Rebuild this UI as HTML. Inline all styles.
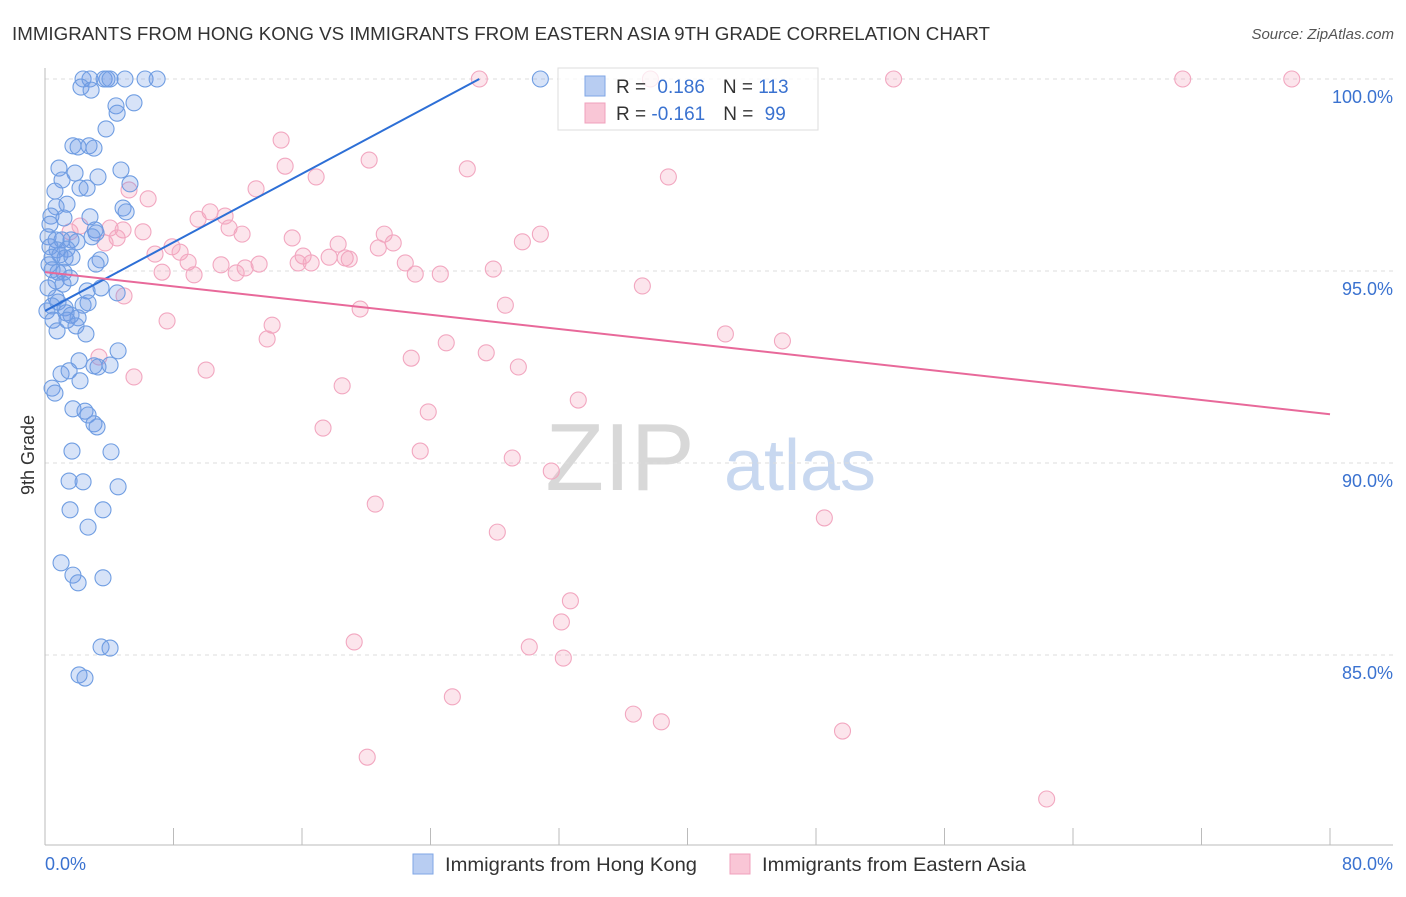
<!DOCTYPE html>
<html><head><meta charset="utf-8"><style>
body{margin:0;background:#fff;font-family:"Liberation Sans",sans-serif;}
svg text{font-family:"Liberation Sans",sans-serif;}
</style></head><body>
<svg id="chart" width="1406" height="892" xmlns="http://www.w3.org/2000/svg">
<text x="12" y="40" font-size="18.5" fill="#333" textLength="978" lengthAdjust="spacingAndGlyphs">IMMIGRANTS FROM HONG KONG VS IMMIGRANTS FROM EASTERN ASIA 9TH GRADE CORRELATION CHART</text>
<text x="1394" y="39" font-size="15" fill="#555" font-style="italic" text-anchor="end">Source: ZipAtlas.com</text>
<text x="620" y="490" font-size="96" fill="#d8d8d8" font-family="Liberation Serif" text-anchor="middle">ZIP</text>
<text x="800" y="490" font-size="72" fill="#c8d8f0" text-anchor="middle">atlas</text>
<text transform="translate(34,455) rotate(-90)" font-size="18" fill="#333" text-anchor="middle">9th Grade</text>
<g id="grid"></g><g id="pts"></g><g id="lines"></g>
<g>
<rect x="558" y="68" width="260" height="62" fill="#fff" fill-opacity="0.75" stroke="#ddd"/>
<rect x="585" y="76" width="20" height="20" fill="#b8cdf2" stroke="#7fa6e6"/>
<rect x="585" y="103" width="20" height="20" fill="#f9c6d6" stroke="#f0a0bc"/>
<text x="616" y="93" font-size="19" fill="#333">R = <tspan fill="#3a72d0" dx="6">0.186</tspan><tspan dx="18" fill="#333">N = </tspan><tspan fill="#3a72d0">113</tspan></text>
<text x="616" y="120" font-size="19" fill="#333">R = <tspan fill="#3a72d0">-0.161</tspan><tspan dx="18" fill="#333">N = </tspan><tspan fill="#3a72d0" dx="6">99</tspan></text>
</g>
<g>
<rect x="413" y="854" width="20" height="20" fill="#b8cdf2" stroke="#7fa6e6"/>
<text x="445" y="871" font-size="19.5" fill="#333" textLength="252" lengthAdjust="spacingAndGlyphs">Immigrants from Hong Kong</text>
<rect x="730" y="854" width="20" height="20" fill="#f9c6d6" stroke="#f0a0bc"/>
<text x="762" y="871" font-size="19.5" fill="#333" textLength="264" lengthAdjust="spacingAndGlyphs">Immigrants from Eastern Asia</text>
</g>
</svg>
<script>
const blueX=[2.37,2.80,3.68,3.86,4.05,4.98,6.23,6.98,30.84,2.24,2.87,4.42,5.54,4.49,3.80,1.74,2.06,2.74,3.05,0.87,4.73,1.87,1.06,3.30,5.29,0.62,2.18,2.62,1.37,4.86,5.05,0.69,0.37,1.18,2.80,0.31,3.12,3.18,0.19,0.69,1.06,1.62,1.99,2.93,0.31,0.75,1.37,0.44,0.93,1.25,1.68,3.43,3.18,0.25,0.44,0.81,1.18,1.56,0.69,1.12,0.19,3.49,2.62,4.49,0.69,0.81,0.44,0.12,1.25,2.37,2.68,1.31,1.62,2.06,1.37,1.93,0.50,0.75,2.55,4.55,2.12,3.05,3.30,4.05,1.00,1.50,2.18,0.44,0.62,1.74,2.49,2.68,3.05,3.24,1.68,4.11,1.50,2.37,4.55,1.56,3.61,2.68,1.00,1.74,3.61,2.06,3.49,4.05,2.12,2.49];
const blueY=[100,100,100,100,100,100,100,100,100,99.79,99.71,99.30,99.38,99.11,98.70,98.26,98.23,98.26,98.20,97.68,97.63,97.55,97.37,97.45,97.27,97.08,97.16,97.16,96.74,96.64,96.54,96.67,96.43,96.38,96.41,96.22,96.07,95.99,95.89,95.81,95.81,95.81,95.76,95.89,95.63,95.55,95.57,95.36,95.42,95.34,95.36,95.29,95.18,95.16,95.03,94.97,94.97,94.82,94.74,94.66,94.56,94.56,94.48,94.43,94.30,94.19,94.09,93.96,94.04,94.11,94.17,93.91,93.85,93.78,93.72,93.57,93.72,93.44,93.36,92.92,92.66,92.53,92.50,92.55,92.32,92.40,92.14,91.95,91.82,91.41,91.35,91.25,91.02,90.94,90.31,90.29,89.53,89.51,89.38,88.78,88.78,88.33,87.40,87.08,87.01,86.88,85.21,85.18,84.48,84.40];
const pinkX=[27.04,37.69,52.83,70.83,77.62,14.70,20.18,14.95,26.29,16.88,38.81,5.23,13.14,6.42,10.28,11.21,9.53,4.05,4.86,6.10,11.46,12.27,21.12,30.84,15.39,4.49,3.74,7.91,18.25,21.68,20.75,29.72,6.85,8.41,16.07,18.69,8.91,10.96,13.33,16.57,15.76,17.69,22.43,18.94,27.91,7.29,9.28,11.90,12.46,23.05,24.61,4.92,37.19,28.66,19.62,7.60,14.14,13.83,42.36,45.91,24.98,27.47,22.80,29.47,3.36,5.54,10.03,18.50,33.20,23.86,17.31,23.36,29.09,31.52,20.56,48.52,28.16,32.71,32.15,30.15,19.25,32.27,25.36,36.63,38.37,49.65,20.06,62.36,1.56,2.18];
const pinkY=[100,100,100,100,100,98.41,97.89,97.73,97.66,97.45,97.45,97.11,97.14,96.88,96.54,96.43,96.35,96.12,96.07,96.02,96.12,95.96,95.96,95.96,95.86,95.86,95.73,95.63,95.70,95.73,95.60,95.76,95.44,95.49,95.39,95.34,95.23,95.16,95.18,95.21,95.21,95.36,95.21,95.31,95.05,94.97,94.90,94.95,95.08,94.92,94.92,94.35,94.61,94.11,94.01,93.70,93.59,93.23,93.36,93.18,93.13,92.87,92.73,92.50,92.76,92.24,92.42,92.01,91.64,91.33,90.91,90.31,90.13,89.79,88.93,88.57,88.20,86.41,85.86,85.21,85.34,84.92,83.91,83.46,83.26,83.02,82.34,81.25,96.02,96.17];
const blueTrendX=[0,27.04];
const blueTrendY=[93.96,100];
const pinkTrendX=[0,80];
const pinkTrendY=[94.97,91.27];
const yTicks=[100,95,90,85];
const yTickLabels=["100.0%","95.0%","90.0%","85.0%"];
const xTicks=[0,8,16,24,32,40,48,56,64,72,80];
const NS='http://www.w3.org/2000/svg';
const sx=v=>45+v/80*1285;
const sy=v=>79+(100-v)/5*192;
function mk(tag,attrs,parent){const e=document.createElementNS(NS,tag);for(const k in attrs)e.setAttribute(k,attrs[k]);parent.appendChild(e);return e;}
const grid=document.getElementById('grid');
yTicks.forEach((t,i)=>{
  const l=mk('line',{x1:45,x2:1393,y1:sy(t),y2:sy(t),stroke:'#ddd','stroke-dasharray':'4,4'},grid);
  
  
  const tx=mk('text',{x:1393,y:sy(t)+24,'font-size':18,fill:'#3a72d0','text-anchor':'end'},grid);
  tx.textContent=yTickLabels[i];
  
  
});
const ax=mk('line',{x1:45,x2:1393,y1:845,y2:845,stroke:'#bbb'},grid);


const ay=mk('line',{x1:45,x2:45,y1:68,y2:845,stroke:'#bbb'},grid);


xTicks.forEach(t=>{
  const l=mk('line',{x1:sx(t),x2:sx(t),y1:828,y2:845,stroke:'#bbb'},grid);
  
  
});
const xl0=mk('text',{x:45,y:870,'font-size':18,fill:'#3a72d0'},grid);xl0.textContent=xTicks[0].toFixed(1)+'%';


const xl1=mk('text',{x:1393,y:870,'font-size':18,fill:'#3a72d0','text-anchor':'end'},grid);xl1.textContent=xTicks[xTicks.length-1].toFixed(1)+'%';


const pts=document.getElementById('pts');
pinkX.forEach((v,i)=>{
  const c=mk('circle',{cx:sx(v),cy:sy(pinkY[i]),r:8,fill:'rgba(244,160,188,0.28)',stroke:'#f2a7c0','stroke-width':1.1},pts);
  
  
});
blueX.forEach((v,i)=>{
  const c=mk('circle',{cx:sx(v),cy:sy(blueY[i]),r:8,fill:'rgba(110,155,230,0.28)',stroke:'#6f9de2','stroke-width':1.1},pts);
  
  
});
const lines=document.getElementById('lines');
const bl=mk('line',{x1:sx(blueTrendX[0]),y1:sy(blueTrendY[0]),x2:sx(blueTrendX[1]),y2:sy(blueTrendY[1]),stroke:'#2d6fd6','stroke-width':2},lines);


const pl=mk('line',{x1:sx(pinkTrendX[0]),y1:sy(pinkTrendY[0]),x2:sx(pinkTrendX[1]),y2:sy(pinkTrendY[1]),stroke:'#e8699a','stroke-width':2},lines);


</script>
</body></html>
